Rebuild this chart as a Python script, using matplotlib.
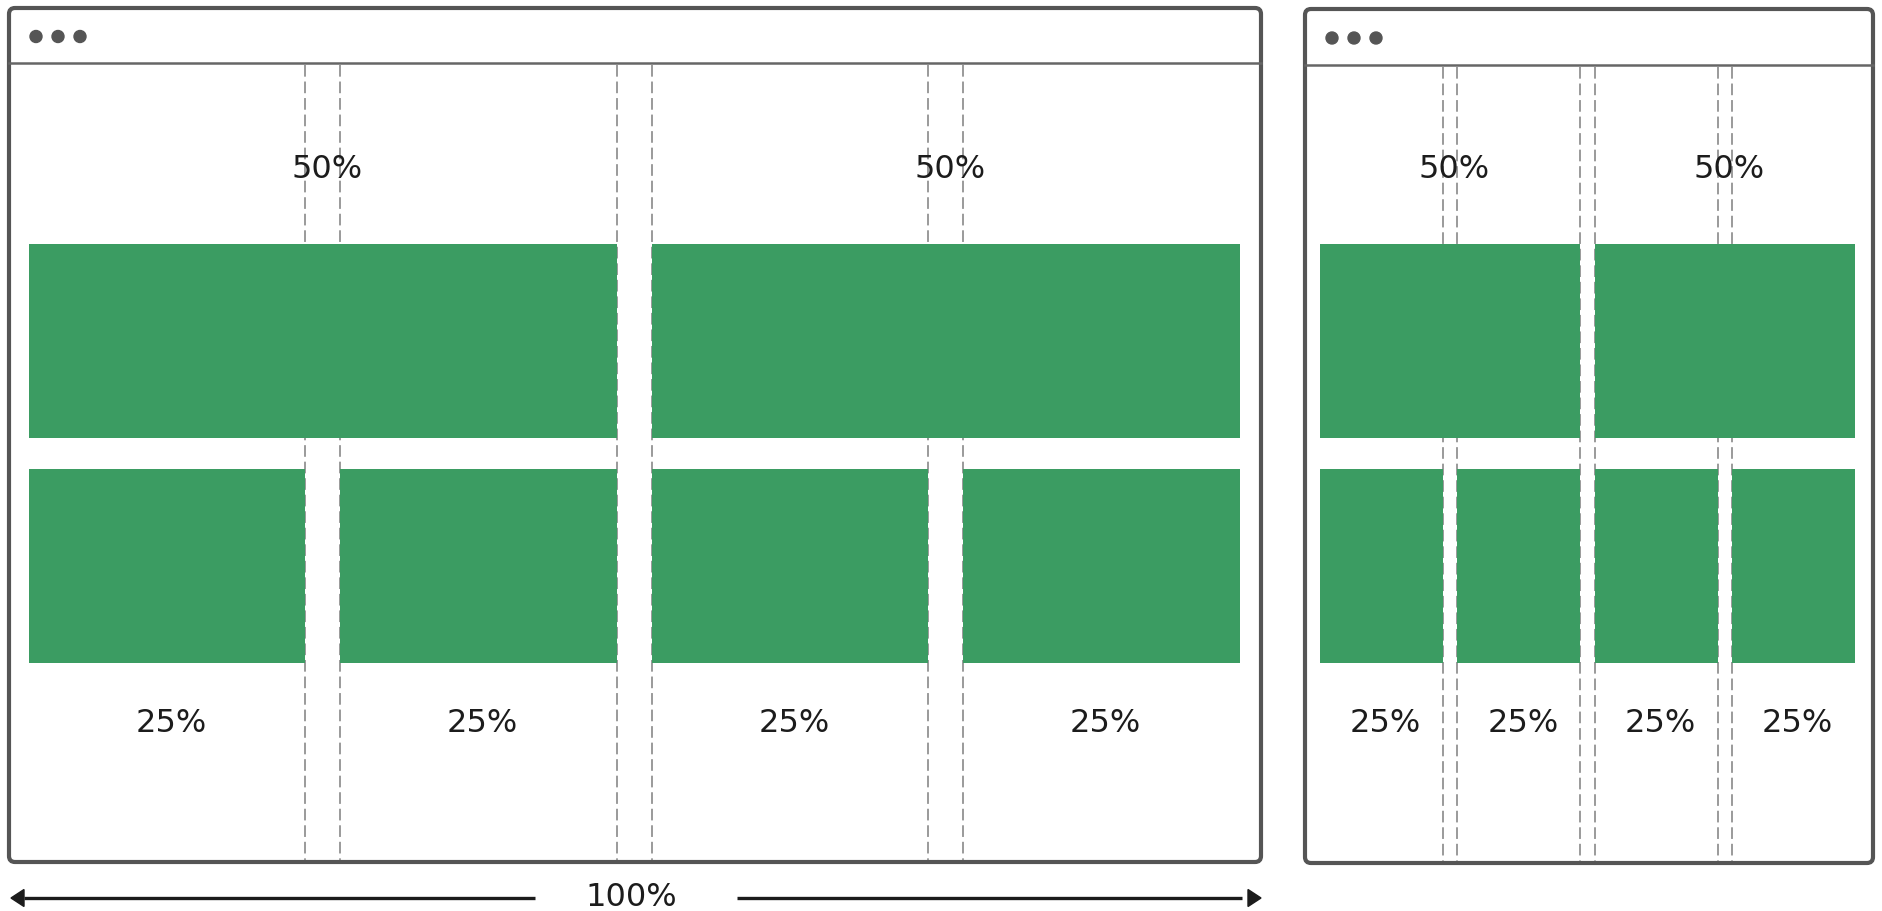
import matplotlib.pyplot as plt
from matplotlib.patches import FancyBboxPatch, Circle, Polygon

# column shares of each row (percent) and their labels
top_row = [50, 50]
bottom_row = [25, 25, 25, 25]
top_labels = ['50%', '50%']
bottom_labels = ['25%', '25%', '25%', '25%']
span_label = '100%'

GREEN = '#3b9c62'
FRAME = '#555555'
DASH = '#9a9a9a'
INK = '#1c1c1c'

# the two browser windows, in pixel coords (x0, y0, x1, y1)
windows = [
    dict(frame=(9, 8, 1261, 862), header=63, inner=(29, 1240), gutter=35),
    dict(frame=(1305, 9, 1873, 863), header=65, inner=(1320, 1855), gutter=14.5),
]
row_tops = [243.5, 468.5]
row_height = 194
top_label_y = 169
bottom_label_y = 724
arrow_y = 898


def columns(shares, x0, x1, gutter):
    total = x1 - x0 + gutter
    cols = []
    acc = 0
    for s in shares:
        start = x0 + acc / 100 * total
        cols.append((start, s / 100 * total - gutter))
        acc += s
    return cols


fig = plt.figure(figsize=(18.83, 9.11), dpi=100)
ax = fig.add_axes([0, 0, 1, 1])
ax.set_xlim(0, 1883)
ax.set_ylim(911, 0)
ax.axis('off')

for win in windows:
    fx0, fy0, fx1, fy1 = win['frame']
    ax.add_patch(FancyBboxPatch((fx0, fy0), fx1 - fx0, fy1 - fy0,
                                boxstyle='round,pad=0,rounding_size=6',
                                fc='white', ec=FRAME, lw=3, zorder=1))
    ax.plot([fx0, fx1], [win['header'], win['header']], color='#666666',
            lw=1.8, zorder=2)
    for k in range(3):
        ax.add_patch(Circle((fx0 + 27 + 22 * k, (fy0 + win['header']) / 2 + 1),
                            6, color=FRAME, zorder=3))

    x0, x1 = win['inner']
    top_cols = columns(top_row, x0, x1, win['gutter'])
    bot_cols = columns(bottom_row, x0, x1, win['gutter'])

    # dashed guides at every gutter edge of the finest grid
    for i in range(len(bot_cols) - 1):
        for gx in (bot_cols[i][0] + bot_cols[i][1], bot_cols[i + 1][0]):
            ax.plot([gx, gx], [win['header'] + 2, fy1 - 2], color=DASH,
                    lw=1.4, dashes=(6, 2.5), zorder=2)

    for cols, top, labels, ly in [(top_cols, row_tops[0], top_labels, top_label_y),
                                  (bot_cols, row_tops[1], bottom_labels, bottom_label_y)]:
        starts = [c[0] for c in cols]
        widths = [c[1] for c in cols]
        ax.bar(starts, row_height, width=widths, bottom=top, align='edge',
               color=GREEN, zorder=4)
        for (s, w), lab in zip(cols, labels):
            ax.text(s + w / 2 + 4, ly, lab, ha='center', va='center',
                    fontsize=23, color=INK, zorder=5)

# span arrow under the left window
fx0, _, fx1, _ = windows[0]['frame']
mid = (fx0 + fx1) / 2 - 4
ax.text(mid, arrow_y, span_label, ha='center', va='center', fontsize=23,
        color=INK)
head_len, head_half = 13, 8.5
left_tip, right_tip = fx0 + 2, fx1
ax.plot([left_tip + head_len, mid - 96], [arrow_y, arrow_y], color=INK, lw=2.4,
        solid_capstyle='butt')
ax.plot([mid + 106, right_tip - head_len - 6], [arrow_y, arrow_y], color=INK,
        lw=2.4, solid_capstyle='butt')
ax.add_patch(Polygon([(left_tip, arrow_y), (left_tip + head_len, arrow_y - head_half),
                      (left_tip + head_len, arrow_y + head_half)], color=INK))
ax.add_patch(Polygon([(right_tip, arrow_y), (right_tip - head_len, arrow_y - head_half),
                      (right_tip - head_len, arrow_y + head_half)], color=INK))

fig.savefig('out.png', dpi=100)
